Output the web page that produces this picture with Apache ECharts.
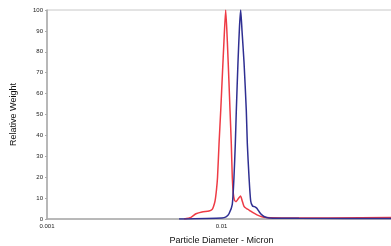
<!DOCTYPE html>
<html>
<head>
<meta charset="utf-8">
<script src="https://cdn.jsdelivr.net/npm/echarts@6/dist/echarts.min.js"></script>
<style>
  html, body { margin: 0; padding: 0; background: #fff; }
  #chart { width: 391px; height: 246px; }
</style>
</head>
<body>
<div id="chart"></div>
<script>
// particle diameter (micron) / relative weight
const redX = [0.0061, 0.00669, 0.00714, 0.00773, 0.00848, 0.00883, 0.009, 0.00918, 0.00936, 0.00949,
  0.00968, 0.0099, 0.01013, 0.01033, 0.01057, 0.0108, 0.01104, 0.01119, 0.01138, 0.01153,
  0.01169, 0.01187, 0.01211, 0.01243, 0.01285, 0.01311, 0.01346, 0.01391, 0.01438, 0.01516,
  0.01597, 0.01684, 0.01799, 0.02437, 0.0413, 0.1];
const redY = [0, 0.8, 2.5, 3.4, 3.8, 4.5, 6, 8.5, 14, 20,
  36, 52, 70, 85, 100, 85, 65, 52, 36, 20,
  12, 9, 8.3, 9.5, 11, 9, 6, 5, 4.3, 3,
  2, 1.2, 0.7, 0.5, 0.5, 0.7];

const blueX = [0.00571, 0.01007, 0.01061, 0.01104, 0.01153, 0.01179, 0.012, 0.01216, 0.01243, 0.01268,
  0.01288, 0.01311, 0.01346, 0.01387, 0.01406, 0.01438, 0.0147, 0.01506, 0.01546, 0.01591,
  0.01629, 0.01677, 0.01752, 0.01872, 0.0278, 0.1];
const blueY = [0, 0.5, 1, 2.5, 7, 20, 36, 52, 75, 92,
  100, 90, 75, 52, 36, 20, 8.6, 6.2, 5.9, 5.2,
  4, 2.5, 1.2, 0.5, 0.3, 0.2];

const xTicks = [0.001, 0.01, 0.1];

function pairs(xs, ys) {
  return xs.map((x, i) => [x, ys[i]]);
}

const chart = echarts.init(document.getElementById('chart'), null, { renderer: 'canvas' });

const FONT = 'Liberation Sans, Arial, sans-serif';

chart.setOption({
  backgroundColor: '#fff',
  animation: false,
  grid: {
    left: 47,
    width: 349,   // plot runs past the right edge of the picture
    top: 10,
    bottom: 27,
    containLabel: false,
    outerBoundsMode: 'none',
    show: true,
    borderColor: '#c8c8c8',
    borderWidth: 1
  },
  xAxis: {
    type: 'log',
    logBase: 10,
    min: 0.001,
    max: 0.1,
    name: 'Particle Diameter - Micron',
    nameLocation: 'middle',
    nameGap: 17,
    nameTextStyle: { fontFamily: FONT, fontSize: 9, color: '#111' },
    axisLine: { lineStyle: { color: '#aaa', width: 1.5 } },
    axisTick: { show: false },
    splitLine: { show: false },
    axisLabel: {
      fontFamily: FONT,
      fontSize: 6,
      color: '#222',
      margin: 4,
      formatter: function (v) {
        const t = xTicks.find(k => Math.abs(k - v) / k < 1e-6);
        return t === undefined ? '' : String(t);
      }
    }
  },
  yAxis: {
    type: 'value',
    min: 0,
    max: 100,
    interval: 10,
    name: 'Relative Weight',
    nameLocation: 'middle',
    nameGap: 29,
    nameTextStyle: { fontFamily: FONT, fontSize: 9, color: '#111' },
    axisLine: { show: true, lineStyle: { color: '#aaa', width: 1.5 } },
    axisTick: { show: true, length: 2, lineStyle: { color: '#aaa' } },
    splitLine: { show: false },
    axisLabel: { fontFamily: FONT, fontSize: 6, color: '#222', margin: 4 }
  },
  series: [
    {
      name: 'red',
      type: 'line',
      data: pairs(redX, redY),
      showSymbol: false,
      smooth: 0.2,
      lineStyle: { color: '#ee3b45', width: 1.5 },
      z: 2
    },
    {
      name: 'blue',
      type: 'line',
      data: pairs(blueX, blueY),
      showSymbol: false,
      smooth: 0.2,
      lineStyle: { color: '#2f2f92', width: 1.5 },
      z: 3
    }
  ]
});
</script>
</body>
</html>
